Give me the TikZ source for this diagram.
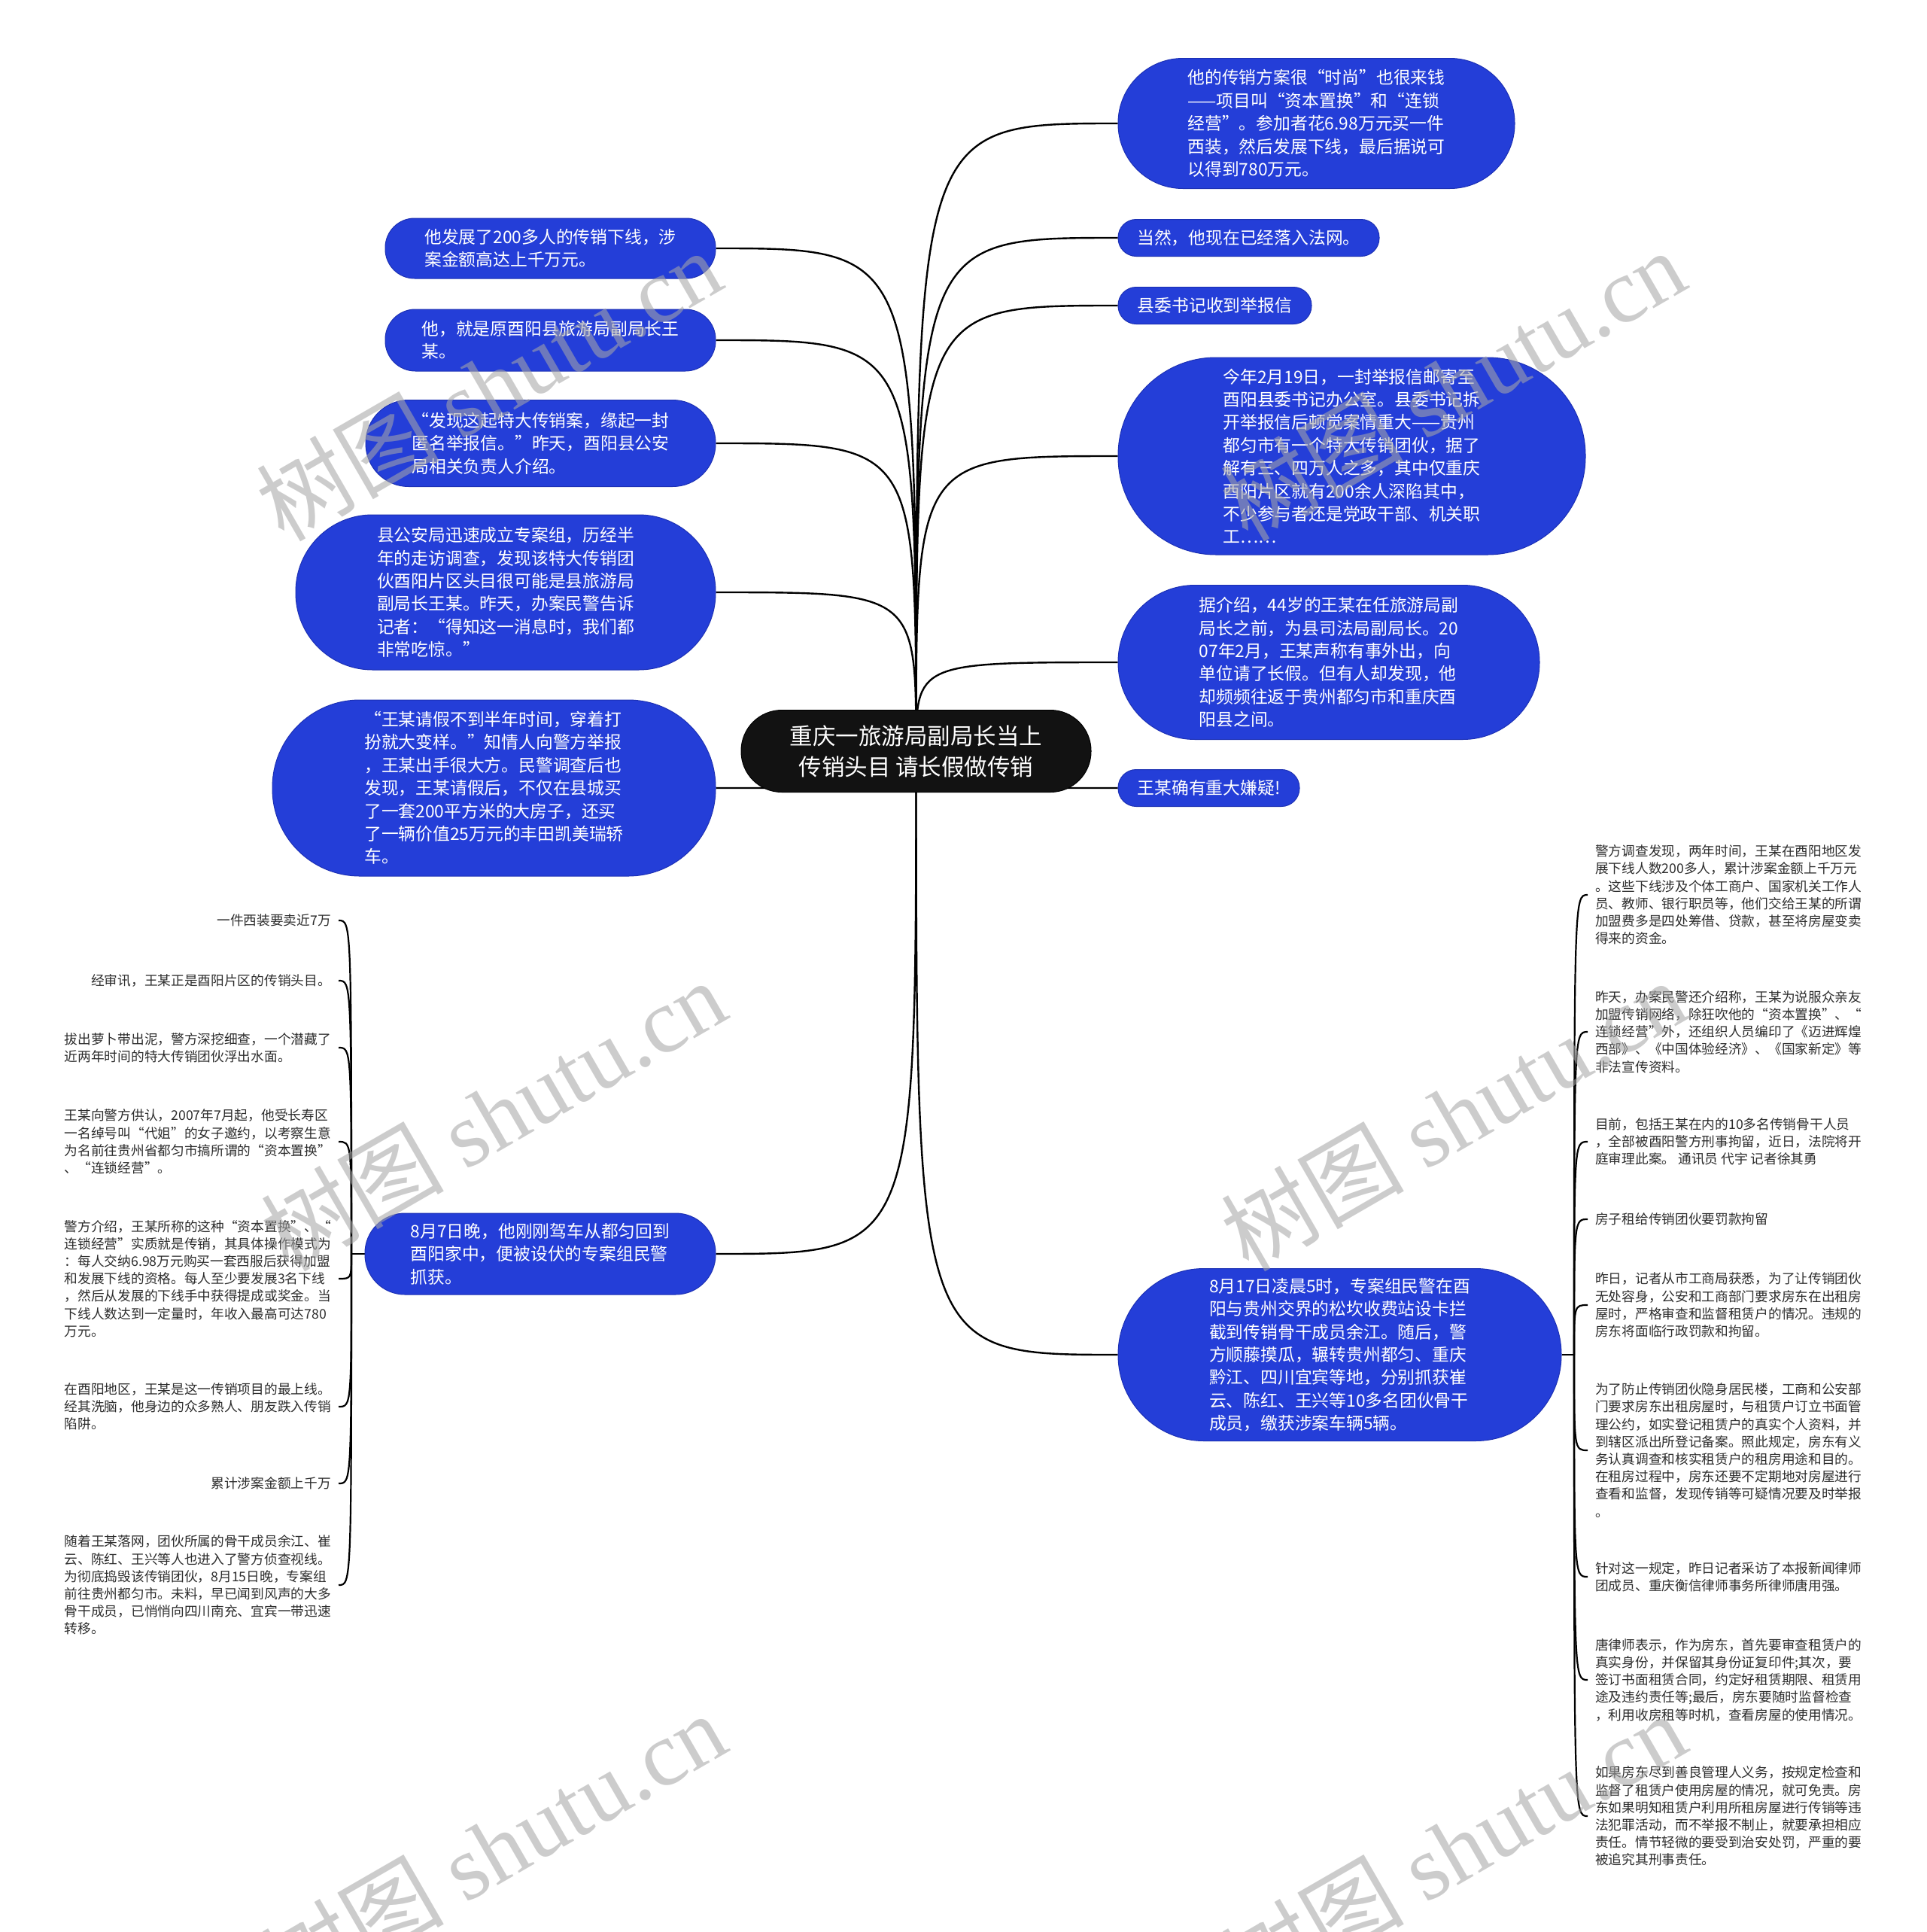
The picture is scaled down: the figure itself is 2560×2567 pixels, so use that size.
\documentclass[tikz,border=0pt]{standalone}
\usepackage{fontspec}
\setmainfont{Noto Sans CJK SC}
\newfontfamily\wmlatin{Liberation Serif}
\definecolor{nodeblue}{RGB}{36,62,216}
\definecolor{nodeedge}{RGB}{28,48,180}
\definecolor{leafgray}{RGB}{45,45,45}
\definecolor{wmgray}{RGB}{167,167,167}
\pgfdeclarelayer{back}
\pgfdeclarelayer{lines}
\pgfdeclarelayer{front}
\pgfsetlayers{back,lines,main,front}
\begin{document}
\begin{tikzpicture}[x=1pt,y=-1pt,
  bnode/.style={rectangle, fill=nodeblue, draw=nodeedge, line width=1pt, text=white, align=left, inner sep=0pt, font=\fontsize{22.8pt}{30.4pt}\selectfont},
  rootnode/.style={rectangle, fill=black!93, draw=black, line width=1pt, text=white, align=center, inner sep=0pt, font=\fontsize{30.5pt}{41pt}\selectfont},
  leafL/.style={anchor=east, align=left, text=leafgray, inner sep=0pt, font=\fontsize{17.7pt}{23.2pt}\selectfont},
  leafR/.style={anchor=west, align=left, text=leafgray, inner sep=0pt, font=\fontsize{17.7pt}{23.2pt}\selectfont},
  link/.style={draw=black, line width=2.4pt},
  twig/.style={draw=black, line width=2.2pt},
  wmark/.style={rotate=30, text=wmgray, opacity=0.57, inner sep=0pt, font=\fontsize{122pt}{130pt}\selectfont}
]
\useasboundingbox (0,0) rectangle (2560,2567);
\begin{pgfonlayer}{back}
\fill[white] (0,0) rectangle (2560,2567);
\end{pgfonlayer}

% root
\node[rootnode, minimum width=465pt, minimum height=109pt, rounded corners=54pt] (root) at (1217.5,998) {重庆一旅游局副局长当上\\传销头目 请长假做传销};

% right first-level nodes
\node[bnode, minimum width=527pt, minimum height=173pt, rounded corners=86pt] (r1) at (1749.5,164) {他的传销方案很“时尚”也很来钱\\——项目叫“资本置换”和“连锁\\经营”。参加者花6.98万元买一件\\西装，然后发展下线，最后据说可\\以得到780万元。};
\node[bnode, minimum width=347pt, minimum height=49pt, rounded corners=24pt] (r2) at (1659.5,316) {当然，他现在已经落入法网。};
\node[bnode, minimum width=257pt, minimum height=49pt, rounded corners=24pt] (r3) at (1614.5,406) {县委书记收到举报信};
\node[bnode, minimum width=621pt, minimum height=262pt, rounded corners=130pt] (r4) at (1796.5,606) {今年2月19日，一封举报信邮寄至\\酉阳县委书记办公室。县委书记拆\\开举报信后顿觉案情重大——贵州\\都匀市有一个特大传销团伙，据了\\解有三、四万人之多，其中仅重庆\\酉阳片区就有200余人深陷其中，\\不少参与者还是党政干部、机关职\\工……};
\node[bnode, minimum width=560pt, minimum height=205pt, rounded corners=102pt] (r5) at (1766,880) {据介绍，44岁的王某在任旅游局副\\局长之前，为县司法局副局长。20\\07年2月，王某声称有事外出，向\\单位请了长假。但有人却发现，他\\却频频往返于贵州都匀市和重庆酉\\阳县之间。};
\node[bnode, minimum width=241pt, minimum height=49pt, rounded corners=24pt] (r6) at (1606.5,1047) {王某确有重大嫌疑!};
\node[bnode, minimum width=589pt, minimum height=229pt, rounded corners=114pt] (r7) at (1780.5,1800) {8月17日凌晨5时，专案组民警在酉\\阳与贵州交界的松坎收费站设卡拦\\截到传销骨干成员余江。随后，警\\方顺藤摸瓜，辗转贵州都匀、重庆\\黔江、四川宜宾等地，分别抓获崔\\云、陈红、王兴等10多名团伙骨干\\成员，缴获涉案车辆5辆。};

% left first-level nodes
\node[bnode, minimum width=439pt, minimum height=80pt, rounded corners=39pt] (l1) at (731.5,330) {他发展了200多人的传销下线，涉\\案金额高达上千万元。};
\node[bnode, minimum width=439pt, minimum height=82pt, rounded corners=40pt] (l2) at (731.5,452) {他，就是原酉阳县旅游局副局长王\\某。};
\node[bnode, minimum width=465pt, minimum height=115pt, rounded corners=57pt] (l3) at (718.5,589) {“发现这起特大传销案，缘起一封\\匿名举报信。”昨天，酉阳县公安\\局相关负责人介绍。};
\node[bnode, minimum width=558pt, minimum height=206pt, rounded corners=102pt] (l4) at (672,787) {县公安局迅速成立专案组，历经半\\年的走访调查，发现该特大传销团\\伙酉阳片区头目很可能是县旅游局\\副局长王某。昨天，办案民警告诉\\记者：“得知这一消息时，我们都\\非常吃惊。”};
\node[bnode, minimum width=589pt, minimum height=234pt, rounded corners=116pt] (l5) at (656.5,1047) {“王某请假不到半年时间，穿着打\\扮就大变样。”知情人向警方举报\\，王某出手很大方。民警调查后也\\发现，王某请假后，不仅在县城买\\了一套200平方米的大房子，还买\\了一辆价值25万元的丰田凯美瑞轿\\车。};
\node[bnode, minimum width=466pt, minimum height=108pt, rounded corners=53pt] (l6) at (718,1666) {8月7日晚，他刚刚驾车从都匀回到\\酉阳家中，便被设伏的专案组民警\\抓获。};

% left leaves
\node[leafL] (ll1) at (440,1223) {一件西装要卖近7万};
\node[leafL] (ll2) at (440,1303) {经审讯，王某正是酉阳片区的传销头目。};
\node[leafL] (ll3) at (440,1392) {拔出萝卜带出泥，警方深挖细查，一个潜藏了\\近两年时间的特大传销团伙浮出水面。};
\node[leafL] (ll4) at (440,1517) {王某向警方供认，2007年7月起，他受长寿区\\一名绰号叫“代姐”的女子邀约，以考察生意\\为名前往贵州省都匀市搞所谓的“资本置换”\\、“连锁经营”。};
\node[leafL] (ll5) at (440,1699) {警方介绍，王某所称的这种“资本置换”、“\\连锁经营”实质就是传销，其具体操作模式为\\：每人交纳6.98万元购买一套西服后获得加盟\\和发展下线的资格。每人至少要发展3名下线\\，然后从发展的下线手中获得提成或奖金。当\\下线人数达到一定量时，年收入最高可达780\\万元。};
\node[leafL] (ll6) at (440,1869) {在酉阳地区，王某是这一传销项目的最上线。\\经其洗脑，他身边的众多熟人、朋友跌入传销\\陷阱。};
\node[leafL] (ll7) at (440,1971) {累计涉案金额上千万};
\node[leafL] (ll8) at (440,2106) {随着王某落网，团伙所属的骨干成员余江、崔\\云、陈红、王兴等人也进入了警方侦查视线。\\为彻底捣毁该传销团伙，8月15日晚，专案组\\前往贵州都匀市。未料，早已闻到风声的大多\\骨干成员，已悄悄向四川南充、宜宾一带迅速\\转移。};

% right leaves
\node[leafR] (rr1) at (2120,1189) {警方调查发现，两年时间，王某在酉阳地区发\\展下线人数200多人，累计涉案金额上千万元\\。这些下线涉及个体工商户、国家机关工作人\\员、教师、银行职员等，他们交给王某的所谓\\加盟费多是四处筹借、贷款，甚至将房屋变卖\\得来的资金。};
\node[leafR] (rr2) at (2120,1371) {昨天，办案民警还介绍称，王某为说服众亲友\\加盟传销网络，除狂吹他的“资本置换”、“\\连锁经营”外，还组织人员编印了《迈进辉煌\\西部》、《中国体验经济》、《国家新定》等\\非法宣传资料。};
\node[leafR] (rr3) at (2120,1517) {目前，包括王某在内的10多名传销骨干人员\\，全部被酉阳警方刑事拘留，近日，法院将开\\庭审理此案。 通讯员 代宇 记者徐其勇};
\node[leafR] (rr4) at (2120,1620) {房子租给传销团伙要罚款拘留};
\node[leafR] (rr5) at (2120,1734) {昨日，记者从市工商局获悉，为了让传销团伙\\无处容身，公安和工商部门要求房东在出租房\\屋时，严格审查和监督租赁户的情况。违规的\\房东将面临行政罚款和拘留。};
\node[leafR] (rr6) at (2120,1927) {为了防止传销团伙隐身居民楼，工商和公安部\\门要求房东出租房屋时，与租赁户订立书面管\\理公约，如实登记租赁户的真实个人资料，并\\到辖区派出所登记备案。照此规定，房东有义\\务认真调查和核实租赁户的租房用途和目的。\\在租房过程中，房东还要不定期地对房屋进行\\查看和监督，发现传销等可疑情况要及时举报\\。};
\node[leafR] (rr7) at (2120,2095) {针对这一规定，昨日记者采访了本报新闻律师\\团成员、重庆衡信律师事务所律师唐用强。};
\node[leafR] (rr8) at (2120,2232) {唐律师表示，作为房东，首先要审查租赁户的\\真实身份，并保留其身份证复印件;其次，要\\签订书面租赁合同，约定好租赁期限、租赁用\\途及违约责任等;最后，房东要随时监督检查\\，利用收房租等时机，查看房屋的使用情况。};
\node[leafR] (rr9) at (2120,2413) {如果房东尽到善良管理人义务，按规定检查和\\监督了租赁户使用房屋的情况，就可免责。房\\东如果明知租赁户利用所租房屋进行传销等违\\法犯罪活动，而不举报不制止，就要承担相应\\责任。情节轻微的要受到治安处罚，严重的要\\被追究其刑事责任。};

\coordinate (lj) at (467,1666);
\coordinate (rj) at (2092,1800);

\begin{pgfonlayer}{lines}
\foreach \n in {r1,r2,r3,r4,r5,r6,r7}
  \draw[link] (root.center) .. controls (root.center |- \n.west) .. (\n.west);
\foreach \n in {l1,l2,l3,l4,l5,l6}
  \draw[link] (root.center) .. controls (root.center |- \n.east) .. (\n.east);
\draw[twig] (l6.west) -- (lj);
\foreach \n in {ll1,ll2,ll3,ll4,ll5,ll6,ll7,ll8}
  \draw[twig] (lj) .. controls (lj |- \n.east) .. ([xshift=10pt]\n.east);
\draw[twig] (r7.east) -- (rj);
\foreach \n in {rr1,rr2,rr3,rr4,rr5,rr6,rr7,rr8,rr9}
  \draw[twig] (rj) .. controls (rj |- \n.west) .. ([xshift=-10pt]\n.west);
\end{pgfonlayer}

\begin{pgfonlayer}{front}
\node[wmark] (wm1) at (649,511) {树图 {\wmlatin shutu.cn}};
\node[wmark] (wm2) at (655,1481) {树图 {\wmlatin shutu.cn}};
\node[wmark] (wm3) at (1930,511) {树图 {\wmlatin shutu.cn}};
\node[wmark] (wm4) at (1931,1481) {树图 {\wmlatin shutu.cn}};
\node[wmark] (wm5) at (655,2455) {树图 {\wmlatin shutu.cn}};
\node[wmark] (wm6) at (1931,2455) {树图 {\wmlatin shutu.cn}};
\end{pgfonlayer}
\end{tikzpicture}
\end{document}
